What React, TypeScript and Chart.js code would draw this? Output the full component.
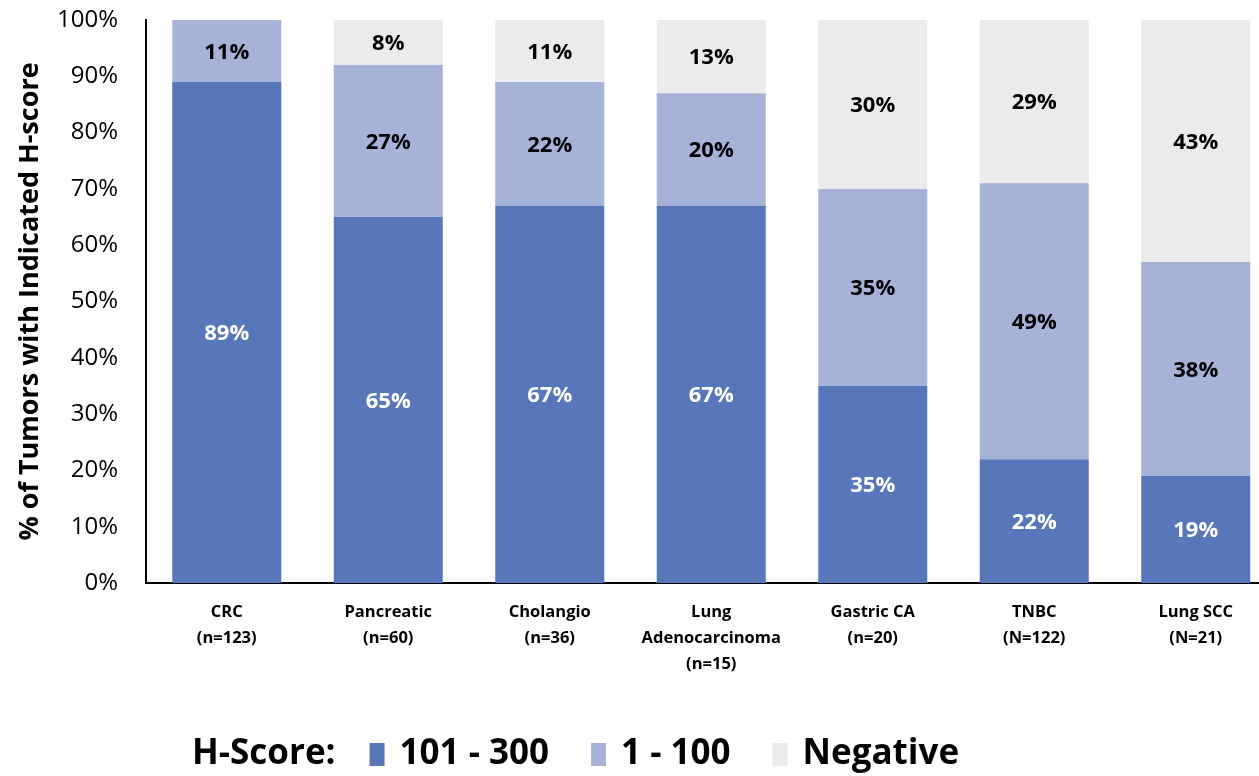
import React, { useEffect, useRef } from 'react';
import { Chart, registerables } from 'chart.js';

Chart.register(...registerables);

const FONT = "'Open Sans', 'Noto Sans', sans-serif";

const categories: string[][] = [
  ['CRC', '(n=123)'],
  ['Pancreatic', '(n=60)'],
  ['Cholangio', '(n=36)'],
  ['Lung', 'Adenocarcinoma', '(n=15)'],
  ['Gastric CA', '(n=20)'],
  ['TNBC', '(N=122)'],
  ['Lung SCC', '(N=21)'],
];
const highScore = [89, 65, 67, 67, 35, 22, 19];
const lowScore = [11, 27, 22, 20, 35, 49, 38];
const negative = [0, 8, 11, 13, 30, 29, 43];
const seriesNames = ['101 - 300', '1 - 100', 'Negative'];
const seriesColors = ['#5876BA', '#A6B2D8', '#EBEBEB'];
const valueLabelColors = ['#FFFFFF', '#000000', '#000000'];
const legendTitle = 'H-Score:';
const yTitle = '% of Tumors with Indicated H-score';

const segmentLabels = {
  id: 'segmentLabels',
  afterDatasetsDraw(chart: any) {
    const ctx = chart.ctx;
    ctx.save();
    ctx.font = `bold 22px ${FONT}`;
    ctx.textAlign = 'center';
    ctx.textBaseline = 'middle';
    chart.data.datasets.forEach((ds: any, i: number) => {
      const meta = chart.getDatasetMeta(i);
      meta.data.forEach((el: any, j: number) => {
        const v = ds.data[j];
        if (!v) return;
        const { x, y, base } = el.getProps(['x', 'y', 'base'], true);
        ctx.fillStyle = valueLabelColors[i];
        ctx.fillText(`${v}%`, x, (y + base) / 2 + 1.5);
      });
    });
    ctx.restore();
  },
};

const inlineLegend = {
  id: 'inlineLegend',
  afterDraw(chart: any) {
    const ctx = chart.ctx;
    const cy = 754;
    ctx.save();
    ctx.font = `bold 35px ${FONT}`;
    ctx.textAlign = 'left';
    ctx.textBaseline = 'middle';
    ctx.fillStyle = '#000';
    let x = 192;
    ctx.fillText(legendTitle, x, cy);
    x += ctx.measureText(legendTitle).width + 34;
    chart.data.datasets.forEach((ds: any) => {
      ctx.fillStyle = ds.backgroundColor;
      ctx.fillRect(x, cy - 11, 15, 23);
      x += 30;
      ctx.fillStyle = '#000';
      ctx.fillText(ds.label, x, cy);
      x += ctx.measureText(ds.label).width + 42;
    });
    ctx.restore();
  },
};

export default function App() {
  const ref = useRef<HTMLCanvasElement>(null);
  useEffect(() => {
    if (!ref.current) return;
    const chart = new Chart(ref.current, {
      type: 'bar',
      data: {
        labels: categories as any,
        datasets: [highScore, lowScore, negative].map((d, i) => ({
          label: seriesNames[i],
          data: d,
          backgroundColor: seriesColors[i],
          borderWidth: 0,
          barPercentage: 0.675,
          categoryPercentage: 1,
        })),
      },
      options: {
        responsive: false,
        animation: false,
        layout: { padding: { left: 0, top: 20, right: 13.5, bottom: 93 } },
        plugins: {
          legend: { display: false },
          tooltip: { enabled: false },
        },
        scales: {
          x: {
            stacked: true,
            grid: { display: false, drawTicks: false },
            border: { display: true, color: '#000', width: 2 },
            ticks: {
              color: '#000',
              padding: 16,
              maxRotation: 0,
              autoSkip: false,
              font: { family: FONT, size: 16.5, weight: 'bold', lineHeight: 1.58 },
            },
            afterFit: (s: any) => { s.height = 100; s.paddingLeft = 0; s.paddingRight = 0; },
          },
          y: {
            stacked: true,
            min: 0,
            max: 100,
            grid: { display: false, drawTicks: false },
            border: { display: true, color: '#000', width: 2 },
            ticks: {
              stepSize: 10,
              color: '#000',
              padding: 28,
              font: { family: FONT, size: 24 },
              callback: (v: any) => `${v}%`,
            },
            title: {
              display: true,
              text: yTitle,
              color: '#000',
              padding: { top: 14, bottom: 0 },
              font: { family: FONT, size: 27, weight: 'bold' },
            },
            afterFit: (s: any) => { s.width = 146; s.paddingTop = 0; s.paddingBottom = 0; },
          },
        },
      },
      plugins: [segmentLabels, inlineLegend],
    });
    return () => chart.destroy();
  }, []);
  return (
    <div style={{ position: 'fixed', left: 0, top: 0, width: 1259, height: 776, overflow: 'hidden', background: '#fff' }}>
      <canvas ref={ref} width={1290} height={776} style={{ display: 'block' }} />
    </div>
  );
}
